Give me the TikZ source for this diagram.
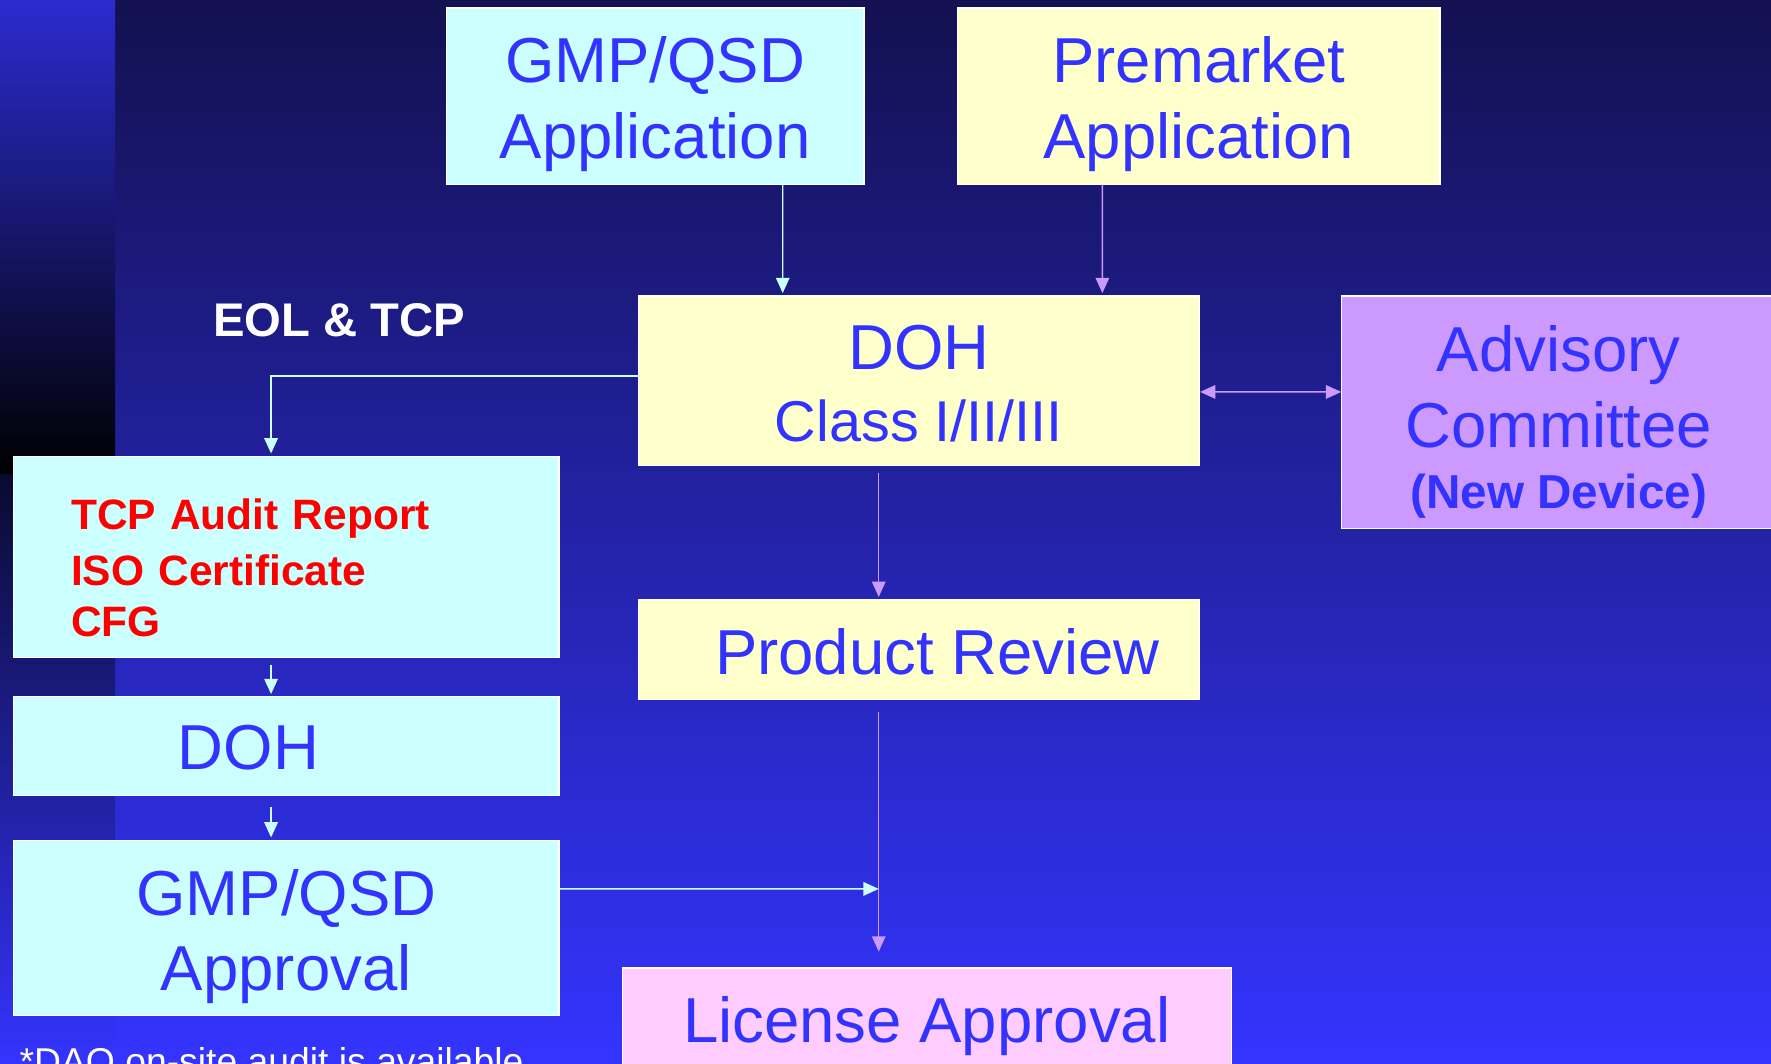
\documentclass[tikz,border=0pt]{standalone}
\usepackage{fontspec}
\setmainfont{Liberation Sans}
\usepackage{tikz}
\usetikzlibrary{arrows.meta}
\definecolor{bgtop}{HTML}{131150}
\definecolor{bgmid}{HTML}{2727BE}
\definecolor{bgbot}{HTML}{3434FF}
\definecolor{stripetop}{HTML}{2B2BD0}
\definecolor{stripemid}{HTML}{2020A8}
\definecolor{stripelow}{HTML}{0A0A30}
\definecolor{boxcyan}{HTML}{CCFFFF}
\definecolor{boxyellow}{HTML}{FFFFCC}
\definecolor{boxlilac}{HTML}{CC99FF}
\definecolor{boxpink}{HTML}{FFCCFF}
\definecolor{textblue}{HTML}{3333FF}

\begin{document}
\begin{tikzpicture}[
	box/.style={draw=white, line width=0.6pt, inner sep=0pt, align=center, text=textblue, font=\fontsize{32}{38}\selectfont},
	link/.style={line width=0.7pt, -{Triangle[length=0.27cm,width=0.24cm]}},
	both/.style={line width=0.7pt, {Triangle[length=0.27cm,width=0.24cm]}-{Triangle[length=0.27cm,width=0.24cm]}}]
		\useasboundingbox (0,0) rectangle (31.36,-18.84);
		\clip (0,0) rectangle (31.36,-18.84);
		\shade[top color=bgtop, middle color=bgmid, bottom color=bgbot] (0,0) rectangle (31.36,-18.84);
		\shade[top color=stripetop, middle color=stripemid, bottom color=black] (0,0) rectangle (2.04,-8.4);
		\shade[top color=stripelow, bottom color=bgbot] (0,-8.4) rectangle (2.04,-18.84);

		\node[box, fill=boxcyan, minimum width=7.4cm, minimum height=3.12cm, text height=2.21cm, text depth=0pt] (gmpApp) at (11.6,-1.7) {GMP/QSD\\Application};
		\node[box, fill=boxyellow, minimum width=8.54cm, minimum height=3.12cm, text height=2.21cm, text depth=0pt] (premarket) at (21.23,-1.7) {Premarket\\Application};
		\node[box, fill=boxyellow, minimum width=9.94cm, minimum height=3cm, text height=2.17cm, text depth=0pt, font=\fontsize{32}{36.4}\selectfont] (dohClass) at (16.27,-6.74) {DOH\\{\fontsize{29}{36.4}\selectfont Class I/II/III}};
		\node[box, fill=boxlilac, minimum width=7.68cm, minimum height=4.12cm, text height=3.41cm, text depth=0pt, font=\fontsize{32}{38.6}\selectfont] (advisory) at (27.6,-7.3) {Advisory\\Committee\\[-7.9pt]{\fontsize{24}{28}\bfseries\selectfont (New Device)}};
		\node[box, fill=boxcyan, minimum width=9.66cm, minimum height=3.56cm, text width=7.62cm, align=left, text=red, text height=0pt, text depth=0.98cm, font=\fontsize{21.4}{28.45}\bfseries\selectfont] (tcpDocs) at (5.07,-9.86) {TCP Audit Report\\ISO Certificate\\[-2.85pt]CFG};
		\node[box, fill=boxcyan, minimum width=9.66cm, minimum height=1.74cm, text height=0.83cm, text depth=0pt] (doh) at (5.07,-13.21) {DOH\hspace*{1.34cm}};
		\node[box, fill=boxcyan, minimum width=9.66cm, minimum height=3.1cm, text height=2.23cm, text depth=0pt] (gmpApproval) at (5.07,-16.43) {GMP/QSD\\Approval};
		\node[box, fill=boxyellow, minimum width=9.94cm, minimum height=1.76cm, text height=0.89cm, text depth=0pt] (prodReview) at (16.27,-11.5) {\hspace*{0.66cm}Product Review};
		\node[box, fill=boxpink, minimum width=10.78cm, minimum height=1.84cm, text height=0.81cm, text depth=0pt] (licence) at (16.41,-18.06) {License Approval};

		\node[anchor=base, inner sep=0pt, text=white, font=\fontsize{23.8}{28}\bfseries\selectfont] (eolTcp) at (6.01,-5.96) {EOL \& TCP};
		\node[anchor=base west, inner sep=0pt, text=white, font=\fontsize{18.8}{22}\selectfont] (daoNote) at (0.34,-19.03) {*DAO on-site audit is available};

		\draw[link, boxcyan, shorten >=0.04cm] ([xshift=2.26cm]gmpApp.south) -- ([xshift=-2.41cm]dohClass.north);
		\draw[link, boxlilac, shorten >=0.04cm] ([xshift=-1.71cm]premarket.south) -- ([xshift=3.25cm]dohClass.north);
		\draw[link, boxcyan, shorten >=0.04cm] ([yshift=0.08cm]dohClass.west) -| ([xshift=-0.27cm]tcpDocs.north);
		\draw[both, boxlilac] ([yshift=-0.2cm]dohClass.east) -- ([yshift=0.36cm]advisory.west);
		\draw[link, boxlilac, shorten <=0.12cm, shorten >=0.04cm] ([xshift=-0.71cm]dohClass.south) -- ([xshift=-0.71cm]prodReview.north);
		\draw[link, boxlilac, shorten <=0.22cm, shorten >=0.28cm] ([xshift=-0.71cm]prodReview.south) -- ([xshift=-0.85cm]licence.north);
		\draw[link, boxcyan, shorten <=0.12cm, shorten >=0.04cm] ([xshift=-0.27cm]tcpDocs.south) -- ([xshift=-0.27cm]doh.north);
		\draw[link, boxcyan, shorten <=0.2cm, shorten >=0.04cm] ([xshift=-0.27cm]doh.south) -- ([xshift=-0.27cm]gmpApproval.north);
		\coordinate (merge) at (15.56,-15.74);
		\draw[link, boxcyan] ([yshift=0.69cm]gmpApproval.east) -- (merge);
	\end{tikzpicture}
\end{document}
